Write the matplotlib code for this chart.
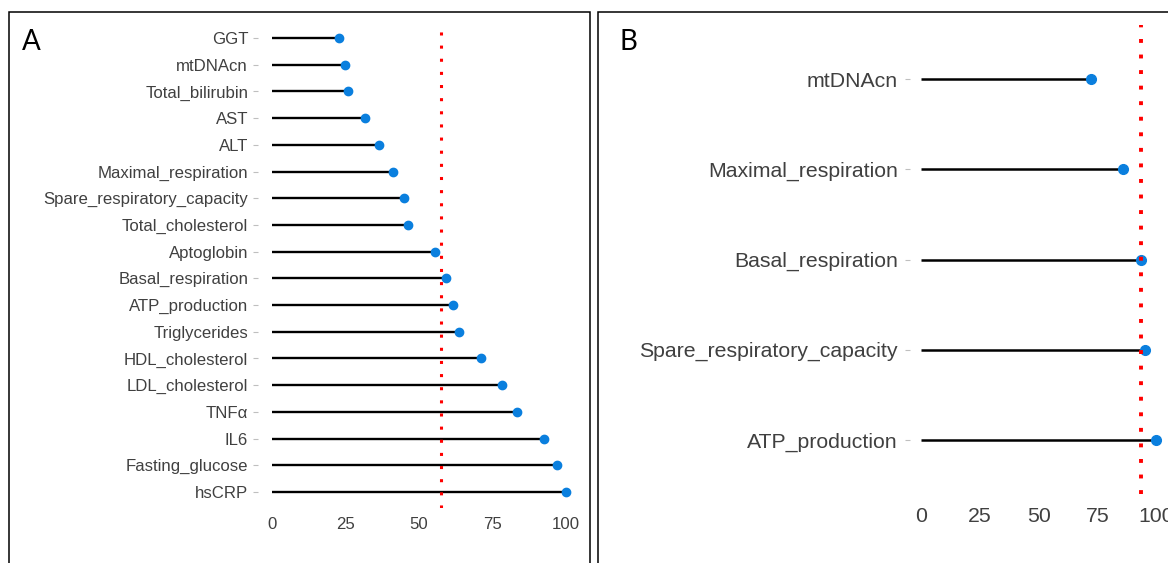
import matplotlib
matplotlib.use("Agg")
import matplotlib.pyplot as plt
from matplotlib.patches import Rectangle

# Panel A data
cats_a = ["GGT", "mtDNAcn", "Total_bilirubin", "AST", "ALT", "Maximal_respiration",
          "Spare_respiratory_capacity", "Total_cholesterol", "Aptoglobin",
          "Basal_respiration", "ATP_production", "Triglycerides", "HDL_cholesterol",
          "LDL_cholesterol", "TNFα", "IL6", "Fasting_glucose", "hsCRP"]
vals_a = [22.8, 24.8, 25.7, 31.6, 36.4, 41.1, 44.7, 46.1, 55.5, 59.3, 61.4, 63.6,
          71.0, 78.1, 83.4, 92.5, 96.8, 100.0]
thr_a = 57.4

# Panel B data
cats_b = ["mtDNAcn", "Maximal_respiration", "Basal_respiration",
          "Spare_respiratory_capacity", "ATP_production"]
vals_b = [72.3, 85.7, 93.4, 95.4, 100.0]
thr_b = 93.4

xticks = [0, 25, 50, 75, 100]

W, H = 1168, 563
fig = plt.figure(figsize=(W / 100, H / 100), dpi=100)
fig.patch.set_facecolor("white")

# panel borders
for (x0, x1) in [(8.5, 590.5), (597.5, 1200)]:
    fig.patches.append(Rectangle((x0 / W, -0.2), (x1 - x0) / W, (H - 12) / H + 0.2,
                                 transform=fig.transFigure, fill=False,
                                 edgecolor="black", linewidth=1.1, clip_on=False))

blue = "#0A7FDE"
txt = "#404040"
font = "Liberation Sans"


def lollipop(ax, cats, vals, thr, fs, ms, lw, red_lw, dash, ypad, xpad):
    ys = list(range(len(cats)))
    for y, v in zip(ys, vals):
        ax.plot([0, v], [y, y], color="black", lw=lw, solid_capstyle="butt", zorder=2)
    ax.plot(vals, ys, "o", color=blue, ms=ms, mec=blue, zorder=3)
    ax.axvline(thr, color="red", lw=red_lw, dashes=dash, dash_capstyle="butt", zorder=4)
    ax.set_xlim(-5, 105)
    ax.set_ylim(len(cats) - 0.4, -0.6)
    ax.set_yticks(ys)
    ax.set_yticklabels(cats, fontsize=fs, color=txt, family=font)
    ax.set_xticks(xticks)
    ax.set_xticklabels([str(t) for t in xticks], fontsize=fs, color=txt, family=font)
    ax.tick_params(axis="y", length=3.5, width=0.8, color="#BFBFBF", pad=ypad)
    ax.tick_params(axis="x", length=0, pad=xpad)
    for s in ax.spines.values():
        s.set_visible(False)
    ax.set_facecolor("none")


axA = fig.add_axes([257.6 / W, (H - 508) / H, 323 / W, 486 / H])
lollipop(axA, cats_a, vals_a, thr_a, fs=12.1, ms=6, lw=1.7, red_lw=2.2, dash=(1, 3.3),
         ypad=3.3, xpad=6.5)

axB = fig.add_axes([909.5 / W, (H - 494) / H, 258.5 / W, 469 / H])
lollipop(axB, cats_b, vals_b, thr_b, fs=15.3, ms=7, lw=1.8, red_lw=2.8, dash=(1, 3.0),
         ypad=5, xpad=9)
for lab in axB.get_xticklabels():
    lab.set_clip_on(False)

fig.text(22 / W, 1 - 42 / H, "A", fontsize=20, family="Lato", va="center", ha="left")
fig.text(619 / W, 1 - 42 / H, "B", fontsize=20, family="Lato", va="center", ha="left")

fig.savefig("out.png", dpi=100)
